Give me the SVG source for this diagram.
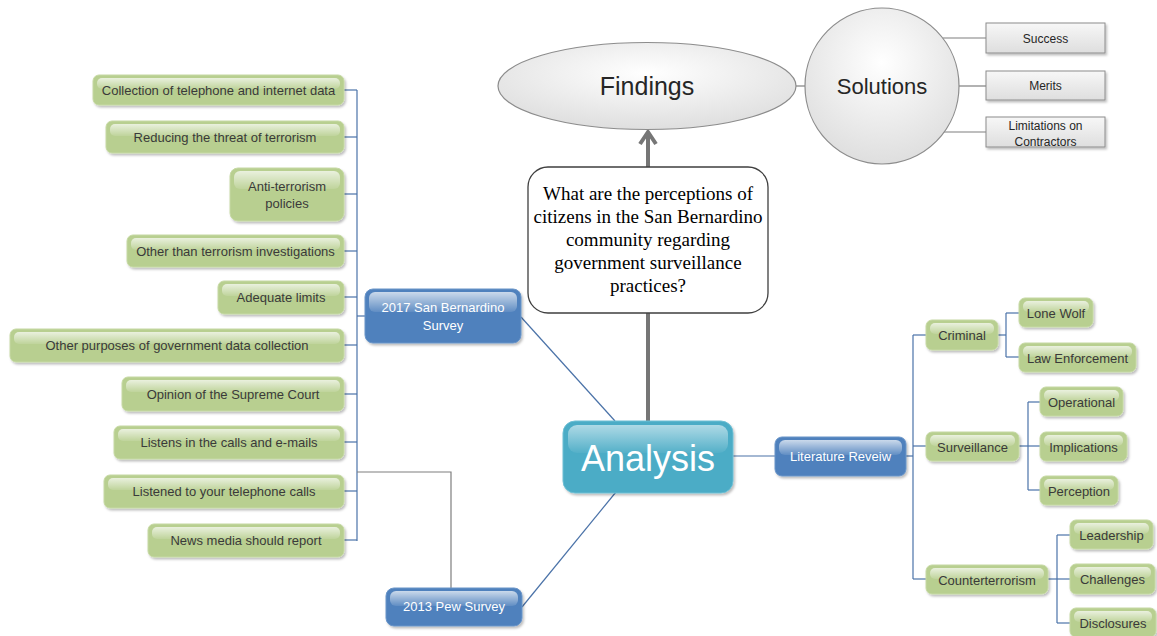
<svg xmlns="http://www.w3.org/2000/svg" width="1157" height="636" viewBox="0 0 1157 636">
<defs>
  <linearGradient id="gHi" x1="0" y1="0" x2="0" y2="1">
    <stop offset="0" stop-color="#ffffff" stop-opacity="0.7"/>
    <stop offset="1" stop-color="#ffffff" stop-opacity="0.1"/>
  </linearGradient>
  <linearGradient id="gHiA" x1="0" y1="0" x2="0" y2="1">
    <stop offset="0" stop-color="#ffffff" stop-opacity="0.55"/>
    <stop offset="1" stop-color="#ffffff" stop-opacity="0.05"/>
  </linearGradient>
  <linearGradient id="gGray" x1="0" y1="0" x2="0" y2="1">
    <stop offset="0" stop-color="#f7f7f7"/>
    <stop offset="1" stop-color="#dedede"/>
  </linearGradient>
  <radialGradient id="gEll" cx="0.5" cy="0.35" r="0.7">
    <stop offset="0" stop-color="#ffffff"/>
    <stop offset="1" stop-color="#dcdcdc"/>
  </radialGradient>
  <filter id="sh" x="-10%" y="-10%" width="130%" height="140%">
    <feDropShadow dx="1.5" dy="2" stdDeviation="1.2" flood-color="#000" flood-opacity="0.25"/>
  </filter>
</defs>
<style>
  .g rect.b{fill:#b8cf90;stroke:#c6d9a4;stroke-width:1;filter:url(#sh)}
  .bl rect.b{fill:#4f81bd;stroke:#6a95c8;stroke-width:1;filter:url(#sh)}
  .an rect.b{fill:#4bacc6;stroke:#6fbfd4;stroke-width:1;filter:url(#sh)}
  rect.h{fill:url(#gHi)}
  .an rect.h{fill:url(#gHiA)}
  .g text{font-family:"Liberation Sans",Arial,sans-serif;font-size:13px;fill:#3a3a3a;text-anchor:middle}
  .bl text{font-family:"Liberation Sans",Arial,sans-serif;font-size:13px;fill:#ffffff;text-anchor:middle}
  .an text{font-family:"Liberation Sans",Arial,sans-serif;font-size:36px;fill:#ffffff;text-anchor:middle}
  .sq rect{fill:url(#gGray);stroke:#8c8c8c;stroke-width:1;filter:url(#sh)}
  .sq text{font-family:"Liberation Sans",Arial,sans-serif;font-size:12px;fill:#262626;text-anchor:middle}
  .ell{fill:url(#gEll);stroke:#8c8c8c;stroke-width:1.2}
  .big{font-family:"Liberation Sans",Arial,sans-serif;fill:#262626;text-anchor:middle}
  .q text{font-family:"Liberation Serif","Times New Roman",serif;font-size:19px;fill:#000;text-anchor:middle}
  .c line,.c polyline{fill:none;stroke:#4a72a8;stroke-width:1.2}
  .c .gr{stroke:#7f7f7f;stroke-width:1.2}
  .c .thick{stroke:#767676;stroke-width:4}
</style>

<g id="connectors" class="c">
  <line x1="357" y1="90" x2="357" y2="541"/>
  <line x1="344" y1="90" x2="357" y2="90"/>
  <line x1="344" y1="137" x2="357" y2="137"/>
  <line x1="344" y1="194" x2="357" y2="194"/>
  <line x1="344" y1="251" x2="357" y2="251"/>
  <line x1="344" y1="297" x2="357" y2="297"/>
  <line x1="344" y1="345" x2="357" y2="345"/>
  <line x1="344" y1="394" x2="357" y2="394"/>
  <line x1="344" y1="442" x2="357" y2="442"/>
  <line x1="344" y1="491" x2="357" y2="491"/>
  <line x1="344" y1="540" x2="357" y2="540"/>
  <line x1="357" y1="316" x2="365" y2="316"/>
  <polyline class="gr" points="357,472 451,472 451,588"/>
  <line x1="521" y1="317" x2="615" y2="421"/>
  <line x1="522" y1="607" x2="616" y2="492"/>
  <line x1="733" y1="456" x2="775" y2="456"/>
  <line x1="906" y1="456" x2="913" y2="456"/>
  <line x1="913" y1="335" x2="913" y2="579"/>
  <line x1="913" y1="335" x2="926" y2="335"/>
  <line x1="913" y1="446" x2="926" y2="446"/>
  <line x1="913" y1="579" x2="926" y2="579"/>
  <line x1="998" y1="335" x2="1006" y2="335"/>
  <line x1="1006" y1="313" x2="1006" y2="357"/>
  <line x1="1006" y1="313" x2="1019" y2="313"/>
  <line x1="1006" y1="357" x2="1019" y2="357"/>
  <line x1="1019" y1="446" x2="1040" y2="446"/>
  <line x1="1028" y1="402" x2="1028" y2="490"/>
  <line x1="1028" y1="402" x2="1040" y2="402"/>
  <line x1="1028" y1="490" x2="1040" y2="490"/>
  <line x1="1048" y1="579" x2="1070" y2="579"/>
  <line x1="1057" y1="535" x2="1057" y2="623"/>
  <line x1="1057" y1="535" x2="1070" y2="535"/>
  <line x1="1057" y1="623" x2="1070" y2="623"/>
  <line class="thick" x1="648" y1="421" x2="648" y2="313"/>
  <line class="thick" x1="648" y1="167" x2="648" y2="132"/>
  <polyline class="thick" points="640,144 648,132 656,144" stroke-linejoin="miter"/>
  <line class="gr" x1="796" y1="86" x2="805" y2="86"/>
  <line class="gr" x1="943" y1="38" x2="986" y2="38"/>
  <line class="gr" x1="959" y1="86" x2="986" y2="86"/>
  <line class="gr" x1="943" y1="132" x2="986" y2="132"/>
</g>

<g id="findings"><ellipse class="ell" cx="647" cy="86" rx="149" ry="43.5"/><text class="big" x="647" y="95" font-size="25">Findings</text></g>
<g id="solutions"><ellipse class="ell" cx="882" cy="86" rx="77" ry="78"/><text class="big" x="882" y="94" font-size="22">Solutions</text></g>
<g id="success" class="sq"><rect x="986" y="23" width="119" height="30"/><text x="1045.5" y="42.5">Success</text></g>
<g id="merits" class="sq"><rect x="986" y="71" width="119" height="29"/><text x="1045.5" y="90">Merits</text></g>
<g id="limitations" class="sq"><rect x="986" y="117" width="119" height="30"/><text x="1045.5" y="129.5">Limitations on</text><text x="1045.5" y="146">Contractors</text></g>

<g id="question" class="q">
  <rect x="528" y="167" width="240" height="146" rx="20" fill="#fff" stroke="#3f3f3f" stroke-width="1.3"/>
  <text x="648" y="200">What are the perceptions of</text>
  <text x="648" y="223">citizens in the San Bernardino</text>
  <text x="648" y="246">community regarding</text>
  <text x="648" y="269">government surveillance</text>
  <text x="648" y="292">practices?</text>
</g>

<g id="analysis" class="an"><rect class="b" x="563" y="421" width="170" height="72" rx="12"/><rect class="h" x="568" y="425" width="160" height="28" rx="9"/><text x="648" y="471">Analysis</text></g>

<g id="survey2017" class="bl"><rect class="b" x="365" y="289" width="156" height="54" rx="8"/><rect class="h" x="369" y="292" width="148" height="20" rx="6"/><text x="443" y="312">2017 San Bernardino</text><text x="443" y="330">Survey</text></g>
<g id="pew2013" class="bl"><rect class="b" x="386" y="588" width="136" height="38" rx="8"/><rect class="h" x="390" y="591" width="128" height="15" rx="6"/><text x="454" y="611">2013 Pew Survey</text></g>
<g id="litreview" class="bl"><rect class="b" x="775" y="437" width="131" height="39" rx="7"/><rect class="h" x="779" y="440" width="123" height="15" rx="6"/><text x="840.5" y="461">Literature Reveiw</text></g>

<g id="n1" class="g"><rect class="b" x="93" y="75" width="251" height="30" rx="6"/><rect class="h" x="97" y="78" width="243" height="11" rx="5"/><text x="218.5" y="95">Collection of telephone and internet data</text></g>
<g id="n2" class="g"><rect class="b" x="106" y="121" width="238" height="32" rx="6"/><rect class="h" x="110" y="124" width="230" height="12" rx="5"/><text x="225" y="142">Reducing the threat of terrorism</text></g>
<g id="n3" class="g"><rect class="b" x="230" y="168" width="114" height="53" rx="8"/><rect class="h" x="234" y="171" width="106" height="18" rx="6"/><text x="287" y="191">Anti-terrorism</text><text x="287" y="208">policies</text></g>
<g id="n4" class="g"><rect class="b" x="127" y="235" width="217" height="32" rx="6"/><rect class="h" x="131" y="238" width="209" height="12" rx="5"/><text x="235.5" y="256">Other than terrorism investigations</text></g>
<g id="n5" class="g"><rect class="b" x="218" y="281" width="126" height="33" rx="6"/><rect class="h" x="222" y="284" width="118" height="12" rx="5"/><text x="281" y="302">Adequate limits</text></g>
<g id="n6" class="g"><rect class="b" x="10" y="329" width="334" height="33" rx="6"/><rect class="h" x="14" y="332" width="326" height="12" rx="5"/><text x="177" y="350">Other purposes of government data collection</text></g>
<g id="n7" class="g"><rect class="b" x="122" y="377" width="222" height="34" rx="6"/><rect class="h" x="126" y="380" width="214" height="12" rx="5"/><text x="233" y="399">Opinion of the Supreme Court</text></g>
<g id="n8" class="g"><rect class="b" x="114" y="426" width="230" height="33" rx="6"/><rect class="h" x="118" y="429" width="222" height="12" rx="5"/><text x="229" y="447">Listens in the calls and e-mails</text></g>
<g id="n9" class="g"><rect class="b" x="104" y="475" width="240" height="33" rx="6"/><rect class="h" x="108" y="478" width="232" height="12" rx="5"/><text x="224" y="496">Listened to your telephone calls</text></g>
<g id="n10" class="g"><rect class="b" x="148" y="524" width="196" height="33" rx="6"/><rect class="h" x="152" y="527" width="188" height="12" rx="5"/><text x="246" y="545">News media should report</text></g>

<g id="criminal" class="g"><rect class="b" x="926" y="320" width="72" height="30" rx="6"/><rect class="h" x="930" y="323" width="64" height="11" rx="5"/><text x="962" y="340">Criminal</text></g>
<g id="lonewolf" class="g"><rect class="b" x="1019" y="298" width="74" height="29" rx="6"/><rect class="h" x="1023" y="301" width="66" height="11" rx="5"/><text x="1056" y="317.5">Lone Wolf</text></g>
<g id="lawenf" class="g"><rect class="b" x="1019" y="343" width="117" height="29" rx="6"/><rect class="h" x="1023" y="346" width="109" height="11" rx="5"/><text x="1077.5" y="362.5">Law Enforcement</text></g>
<g id="surveillance" class="g"><rect class="b" x="926" y="432" width="93" height="29" rx="6"/><rect class="h" x="930" y="435" width="85" height="11" rx="5"/><text x="972.5" y="451.5">Surveillance</text></g>
<g id="operational" class="g"><rect class="b" x="1040" y="387" width="83" height="29" rx="6"/><rect class="h" x="1044" y="390" width="75" height="11" rx="5"/><text x="1081.5" y="406.5">Operational</text></g>
<g id="implications" class="g"><rect class="b" x="1040" y="432" width="87" height="29" rx="6"/><rect class="h" x="1044" y="435" width="79" height="11" rx="5"/><text x="1083.5" y="451.5">Implications</text></g>
<g id="perception" class="g"><rect class="b" x="1040" y="476" width="78" height="29" rx="6"/><rect class="h" x="1044" y="479" width="70" height="11" rx="5"/><text x="1079" y="495.5">Perception</text></g>
<g id="counterterrorism" class="g"><rect class="b" x="926" y="565" width="122" height="29" rx="6"/><rect class="h" x="930" y="568" width="114" height="11" rx="5"/><text x="987" y="584.5">Counterterrorism</text></g>
<g id="leadership" class="g"><rect class="b" x="1070" y="520" width="83" height="29" rx="6"/><rect class="h" x="1074" y="523" width="75" height="11" rx="5"/><text x="1111.5" y="539.5">Leadership</text></g>
<g id="challenges" class="g"><rect class="b" x="1070" y="564" width="85" height="30" rx="6"/><rect class="h" x="1074" y="567" width="77" height="11" rx="5"/><text x="1112.5" y="584">Challenges</text></g>
<g id="disclosures" class="g"><rect class="b" x="1070" y="608" width="86" height="29" rx="6"/><rect class="h" x="1074" y="611" width="78" height="11" rx="5"/><text x="1113" y="627.5">Disclosures</text></g>
</svg>
